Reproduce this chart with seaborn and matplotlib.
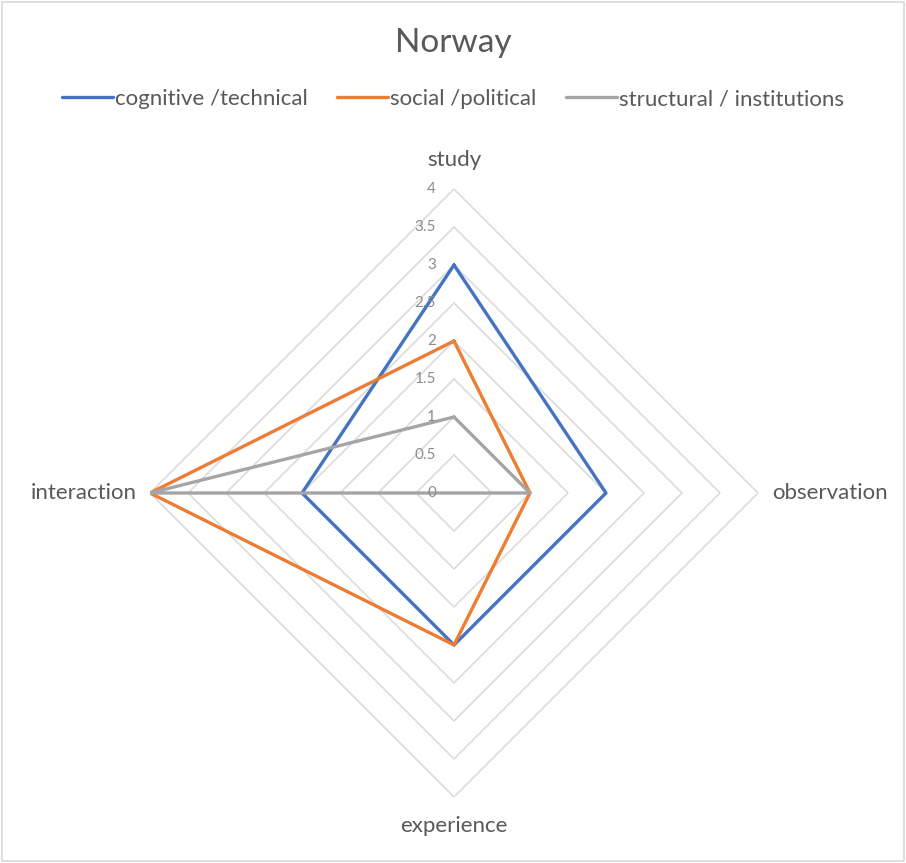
import numpy as np
import pandas as pd
import matplotlib
matplotlib.use("Agg")
import matplotlib.pyplot as plt
import seaborn as sns
from matplotlib.patches import Rectangle

categories = ["study", "observation", "experience", "interaction"]
cognitive = [3, 2, 2, 2]
social = [2, 1, 2, 4]
structural = [1, 1, 0, 4]
series_names = ["cognitive /technical", "social /political", "structural / institutions"]
tick_values = [0, 0.5, 1, 1.5, 2, 2.5, 3, 3.5, 4]
tick_labels = ["0", "0.5", "1", "1.5", "2", "2.5", "3", "3.5", "4"]

sns.set_theme(style="white")
plt.rcParams["font.family"] = ["Lato", "DejaVu Sans"]

colors = ["#4472C4", "#ED7D31", "#A5A5A5"]

fig = plt.figure(figsize=(9.06, 8.63), dpi=100)
fig.patches.append(Rectangle((0.002, 0.002), 0.996, 0.996, transform=fig.transFigure,
                             fill=False, edgecolor="#D9D9D9", linewidth=1.2))
ax = fig.add_axes([0.1656, 0.0765, 0.671, 0.7045], projection="polar")
ax.set_theta_offset(np.pi / 2)
ax.set_theta_direction(-1)

n = len(categories)
angles = np.linspace(0, 2 * np.pi, n, endpoint=False)
closed_angles = np.concatenate([angles, angles[:1]])

# diamond gridlines
for v in tick_values[1:]:
    ax.plot(closed_angles, [v] * (n + 1), color="#D9D9D9", linewidth=1.1, zorder=1)

rows = []
for name, vals in zip(series_names, [cognitive, social, structural]):
    for a, v in zip(closed_angles, vals + vals[:1]):
        rows.append({"series": name, "angle": a, "value": v})
df = pd.DataFrame(rows)

for name, col in zip(series_names, colors):
    sub = df[df["series"] == name]
    sns.lineplot(data=sub, x="angle", y="value", ax=ax, color=col, linewidth=2.4,
                 sort=False, estimator=None, label=name, zorder=3)

ax.set_ylim(0, 4)
ax.set_xticks([])
ax.set_yticks([])
ax.grid(False)
ax.spines["polar"].set_visible(False)
ax.set_xlabel("")
ax.set_ylabel("")

# radial tick labels
for v, lab in zip(tick_values, tick_labels):
    ax.annotate(lab, xy=(0, v), xytext=(-13, 0), textcoords="offset points",
                ha="right", va="center", fontsize=11, color="#8C8C8C")

# category labels
label_specs = [("center", "bottom"), ("left", "center"), ("center", "top"), ("right", "center")]
label_r = [4.25, 4.18, 4.25, 4.18]
for a, c, r, (ha, va) in zip(angles, categories, label_r, label_specs):
    ax.text(a, r, c, ha=ha, va=va, fontsize=16, color="#595959")

leg = ax.legend(loc="center", bbox_to_anchor=(0.5, 1 - 99 / 863), bbox_transform=fig.transFigure,
                ncol=3, frameon=False, fontsize=16, handlelength=2.3, handletextpad=0.1,
                columnspacing=1.3)
for t in leg.get_texts():
    t.set_color("#595959")

fig.text(0.5, 1 - 43 / 863, "Norway", ha="center", va="center", fontsize=24, color="#595959")

fig.savefig("out.png", dpi=100)
